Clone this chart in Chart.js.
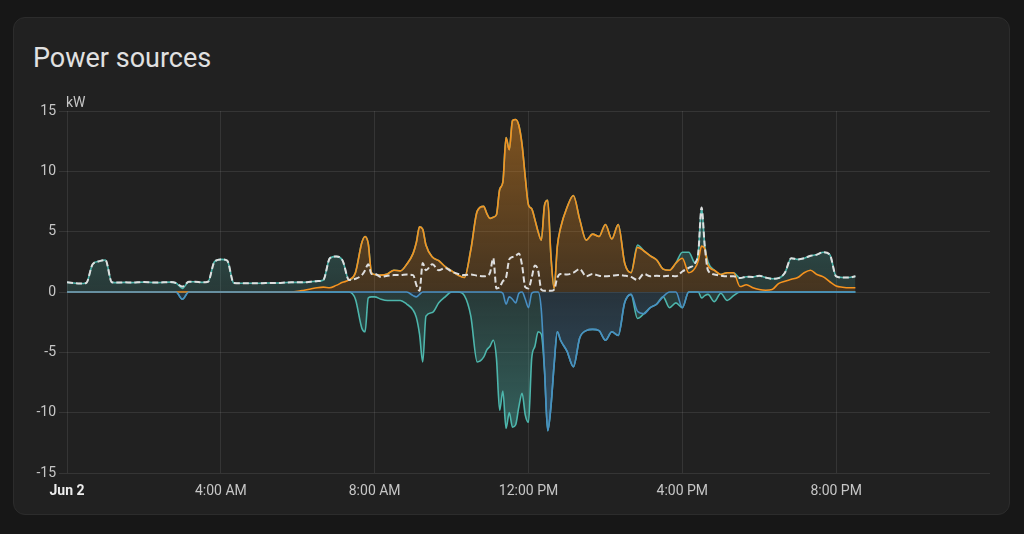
<!DOCTYPE html>
<html>
<head>
<meta charset="utf-8">
<title>Power sources</title>
<script src="https://cdn.jsdelivr.net/npm/chart.js@4.4.1/dist/chart.umd.min.js"></script>
<style>
  html, body { margin: 0; padding: 0; width: 1024px; height: 534px; overflow: hidden; background: #171717; font-family: Roboto, sans-serif; }
  .card { position: absolute; left: 13px; top: 17px; width: 995px; height: 496px; background: #212121; border: 1px solid #2c2c2c; border-radius: 12px; }
  .title { position: absolute; left: 33px; top: 45px; font-size: 27px; line-height: 1; color: #e1e1e1; }
  .chart-box { position: absolute; left: 20px; top: 90px; width: 980px; height: 420px; }
</style>
</head>
<body>
<div class="card"></div>
<div class="title">Power sources</div>
<div class="chart-box"><canvas id="chart"></canvas></div>
<script>
'use strict';

// sample times, minutes after midnight (Jun 2)
const minutes = [
  0,10,20,30,40,50,60,70,80,90,100,110,120,130,140,150,160,170,180,190,200,210,220,230,
  240,250,260,270,280,290,300,310,320,330,340,350,360,370,380,390,400,410,420,430,440,450,
  460,465,470,475,
  480,490,500,510,520,530,540,
  545,550,555,560,
  570,580,590,600,610,620,630,640,
  650,655,660,665,670,675,680,685,690,695,700,705,710,715,720,725,730,735,740,745,750,755,760,765,770,
  780,790,800,810,820,830,840,850,860,870,880,890,900,910,920,930,940,950,960,970,980,
  985,990,995,1000,
  1010,1020,1030,1040,1050,1060,1070,1080,1090,1100,1110,1120,1130,1140,1150,1160,1170,1180,1190,1200,1210,1220,1230
];

const xTickLabels = ['Jun 2', '4:00 AM', '8:00 AM', '12:00 PM', '4:00 PM', '8:00 PM'];

// kW
const solar = [
  0,0,0,0,0,0,0,0,0,0,0,0,0,0,0,0,0,0,0,0,0,0,0,0,
  0,0,0,0,0,0,0,0,0,0,0,0,0.05,0.15,0.25,0.35,0.4,0.35,0.55,0.8,1.0,1.6,
  4.1,4.6,4.0,1.6,
  1.45,1.4,1.5,1.8,1.75,2.3,3.2,
  4.1,5.4,5.2,3.9,
  2.9,2.6,2.1,1.75,1.4,1.2,3.5,6.7,
  7.1,6.5,6.1,6.2,6.4,8.5,9.1,12.8,11.8,14.2,14.3,13.8,12.2,9.5,7.2,6.9,6.0,5.0,4.3,7.2,7.6,3.0,0.3,3.8,5.3,
  7.0,8.0,6.0,4.3,4.8,4.6,5.6,4.4,5.6,2.4,1.6,3.7,3.4,3.0,2.65,1.9,1.8,2.4,2.8,1.6,2.0,
  2.6,3.8,3.6,2.2,
  1.8,1.45,1.6,1.6,0.45,0.6,0.35,0.2,0.15,0.2,0.7,0.9,1.05,1.2,1.6,1.8,1.45,1.25,0.85,0.5,0.4,0.35,0.35
];

const batteryOut = [
  0.8,0.75,0.7,0.75,2.3,2.55,2.65,0.8,0.78,0.8,0.78,0.8,0.82,0.8,0.78,0.8,0.82,0.75,0.3,0.85,0.85,0.8,0.85,2.5,
  2.7,2.6,0.75,0.72,0.72,0.72,0.72,0.75,0.75,0.75,0.78,0.8,0.75,0.65,0.6,0.55,0.6,2.45,2.4,1.8,0,0,
  0,0,0,0,
  0,0,0,0,0,0,0,
  0,0,0,0,
  0,0,0,0,0,0,0,0,
  0,0,0,0,0,0,0,0,0,0,0,0,0,0,0,0,0,0,0,0,0,0,0,0,0,
  0,0,0,0,0,0,0,0,0,0,0,0.2,0,0,0,0,0,0,0.5,1.7,0.4,
  0.7,3.2,0.2,0.3,
  0,0,0,0,0.7,0.67,0.9,1.15,1.05,0.9,0.45,0.7,1.75,1.5,1.2,1.2,1.65,2.05,2.25,0.8,0.8,0.85,0.95
];

const gridExport = [
  0,0,0,0,0,0,0,0,0,0,0,0,0,0,0,0,0,0,-0.6,0,0,0,0,0,
  0,0,0,0,0,0,0,0,0,0,0,0,0,0,0,0,0,0,0,0,0,0,
  0,0,0,0,
  0,0,0,0,0,0,-0.3,
  -0.4,-0.2,0,0,
  0,0,0,0,0,0,0,0,
  0,0,0,0,0,0,-0.1,-1.0,-0.4,-0.6,-0.9,-0.1,0,-0.6,-1.3,-0.1,0,0,-1.5,-6.5,-11.5,-9.5,-6.0,-3.3,-4.0,
  -4.9,-6.2,-3.8,-3.2,-3.1,-3.2,-4.0,-3.3,-3.6,-0.9,-0.2,-1.6,-1.8,-1.3,-1.0,-0.4,0,0,-1.3,0,0,
  0,0,0,0,
  0,0,0,0,0,0,0,0,0,0,0,0,0,0,0,0,0,0,0,0,0,0,0
];

const batteryIn = [
  0,0,0,0,0,0,0,0,0,0,0,0,0,0,0,0,0,0,0,0,0,0,0,0,
  0,0,0,0,0,0,0,0,0,0,0,0,0,0,0,0,0,0,0,0,0,-0.6,
  -3.0,-3.3,-0.5,-0.4,
  -0.4,-0.6,-0.7,-0.7,-0.7,-1.0,-1.2,
  -1.7,-3.3,-5.8,-2.0,
  -1.7,-0.9,-0.4,0,0,-0.3,-2.0,-5.8,
  -5.4,-4.8,-4.5,-4.0,-5.5,-9.8,-8.1,-10.3,-9.6,-10.6,-10.1,-9.4,-8.4,-9.6,-9.5,-5.4,-4.5,-3.3,-2.0,0,0,0,0,0,0,
  0,0,0,0,0,0,0,0,0,0,0,-0.6,0,0,0,0,-1.3,-0.9,0,0,0,
  0,-0.5,-0.3,-0.2,
  -0.8,-0.1,-0.7,-0.3,0,0,0,0,0,0,0,0,0,0,0,0,0,0,0,0,0,0,0
];

const consumption = [
  0.8,0.75,0.7,0.75,2.3,2.55,2.65,0.8,0.78,0.8,0.78,0.8,0.82,0.8,0.78,0.8,0.82,0.75,0.45,0.85,0.85,0.8,0.85,2.5,
  2.7,2.6,0.75,0.72,0.72,0.72,0.72,0.75,0.75,0.75,0.78,0.8,0.8,0.8,0.85,0.9,1.0,2.8,2.95,2.6,1.0,1.1,
  1.4,1.8,2.3,1.5,
  1.5,1.25,1.35,1.4,1.4,1.45,1.4,
  0.6,0.1,2.4,1.8,
  2.3,1.8,2.0,1.7,1.5,1.4,1.45,1.35,
  1.3,1.35,1.6,2.8,0.3,0.4,0.9,1.2,2.7,2.9,3.0,3.2,2.2,0.4,0.3,1.2,2.2,1.8,0.2,0.1,0.1,0.1,0.2,1.2,1.5,
  1.45,1.6,1.9,1.3,1.5,1.35,1.3,1.35,1.4,1.35,1.25,1.0,1.5,1.3,1.35,1.3,1.35,1.3,1.7,2.0,2.4,
  3.3,7.0,3.8,1.8,
  1.45,1.35,1.3,1.3,1.15,1.27,1.25,1.35,1.2,1.1,1.15,1.6,2.8,2.7,2.8,3.0,3.1,3.3,3.1,1.3,1.2,1.2,1.3
];

const ORANGE = '#f5931f';
const TEAL = '#4db6ac';
const BLUE = '#488fc2';

function toPoints(values) {
  return minutes.map((m, i) => ({ x: m, y: values[i] }));
}

function rgba(hex, a) {
  const n = parseInt(hex.slice(1), 16);
  return 'rgba(' + (n >> 16) + ',' + ((n >> 8) & 255) + ',' + (n & 255) + ',' + a + ')';
}

// fill gets stronger the further it is from the zero line
function areaFill(hex, negative, top) {
  return function (context) {
    const chart = context.chart;
    if (!chart.chartArea) return rgba(hex, 0.25);
    const y = chart.scales.y;
    const g = chart.ctx.createLinearGradient(0, y.getPixelForValue(0), 0, y.getPixelForValue(negative ? -15 : 15));
    g.addColorStop(0, rgba(hex, 0.17));
    g.addColorStop(1, rgba(hex, top));
    return g;
  };
}

const unitLabel = {
  id: 'unitLabel',
  afterDraw(chart) {
    const c = chart.ctx;
    c.save();
    c.font = '14px Roboto';
    c.fillStyle = '#c6c6c6';
    c.textAlign = 'left';
    c.textBaseline = 'alphabetic';
    c.fillText('kW', chart.chartArea.left - 1, chart.chartArea.top - 4);
    c.restore();
  }
};

const lineBase = {
  pointRadius: 0,
  pointHoverRadius: 0,
  borderWidth: 1.6,
  cubicInterpolationMode: 'monotone'
};

Chart.defaults.font.family = 'Roboto';

new Chart(document.getElementById('chart').getContext('2d'), {
  type: 'line',
  data: {
    datasets: [
      Object.assign({}, lineBase, {
        label: 'Consumption',
        data: toPoints(consumption),
        stack: 'usage',
        borderColor: '#dedede',
        borderWidth: 2,
        borderDash: [6, 3],
        fill: false,
        order: 0
      }),
      Object.assign({}, lineBase, {
        label: 'Solar',
        data: toPoints(solar),
        stack: 'in',
        borderColor: ORANGE,
        backgroundColor: areaFill(ORANGE, false, 0.45),
        fill: 'origin',
        order: 2
      }),
      Object.assign({}, lineBase, {
        label: 'Battery discharge',
        data: toPoints(batteryOut),
        stack: 'in',
        borderColor: TEAL,
        backgroundColor: areaFill(TEAL, false, 0.5),
        fill: '-1',
        order: 3
      }),
      Object.assign({}, lineBase, {
        label: 'Grid export',
        data: toPoints(gridExport),
        stack: 'out',
        borderColor: BLUE,
        backgroundColor: areaFill(BLUE, true, 0.5),
        fill: 'origin',
        order: 1
      }),
      Object.assign({}, lineBase, {
        label: 'Battery charge',
        data: toPoints(batteryIn),
        stack: 'out',
        borderColor: TEAL,
        backgroundColor: areaFill(TEAL, true, 0.5),
        fill: '-1',
        order: 4
      })
    ]
  },
  options: {
    responsive: true,
    maintainAspectRatio: false,
    animation: false,
    layout: { padding: { top: 21, right: 10, bottom: 7, left: 0 } },
    plugins: {
      legend: { display: false },
      tooltip: { enabled: false }
    },
    scales: {
      x: {
        type: 'linear',
        min: 0,
        max: 1440,
        afterBuildTicks: (scale) => { scale.ticks = scale.ticks.filter(t => t.value < 1440); },
        afterFit: (scale) => { scale.height = 30; },
        grid: { color: 'rgba(255,255,255,0.09)', drawTicks: false },
        border: { display: false },
        ticks: {
          stepSize: 240,
          padding: 10,
          maxRotation: 0,
          autoSkip: false,
          callback: (value) => xTickLabels[value / 240],
          color: (c) => (c.tick && c.tick.value === 0 ? '#ececec' : '#c6c6c6'),
          font: (c) => (c.tick && c.tick.value === 0 ? { size: 14, weight: 'bold' } : { size: 14 })
        }
      },
      y: {
        stacked: true,
        min: -15,
        max: 15,
        afterFit: (scale) => { scale.width = 47; },
        grid: { color: 'rgba(255,255,255,0.09)', tickLength: 8 },
        border: { display: false },
        ticks: {
          stepSize: 5,
          padding: 3,
          color: '#c6c6c6',
          font: { size: 14 }
        }
      }
    }
  },
  plugins: [unitLabel]
});
</script>
</body>
</html>
